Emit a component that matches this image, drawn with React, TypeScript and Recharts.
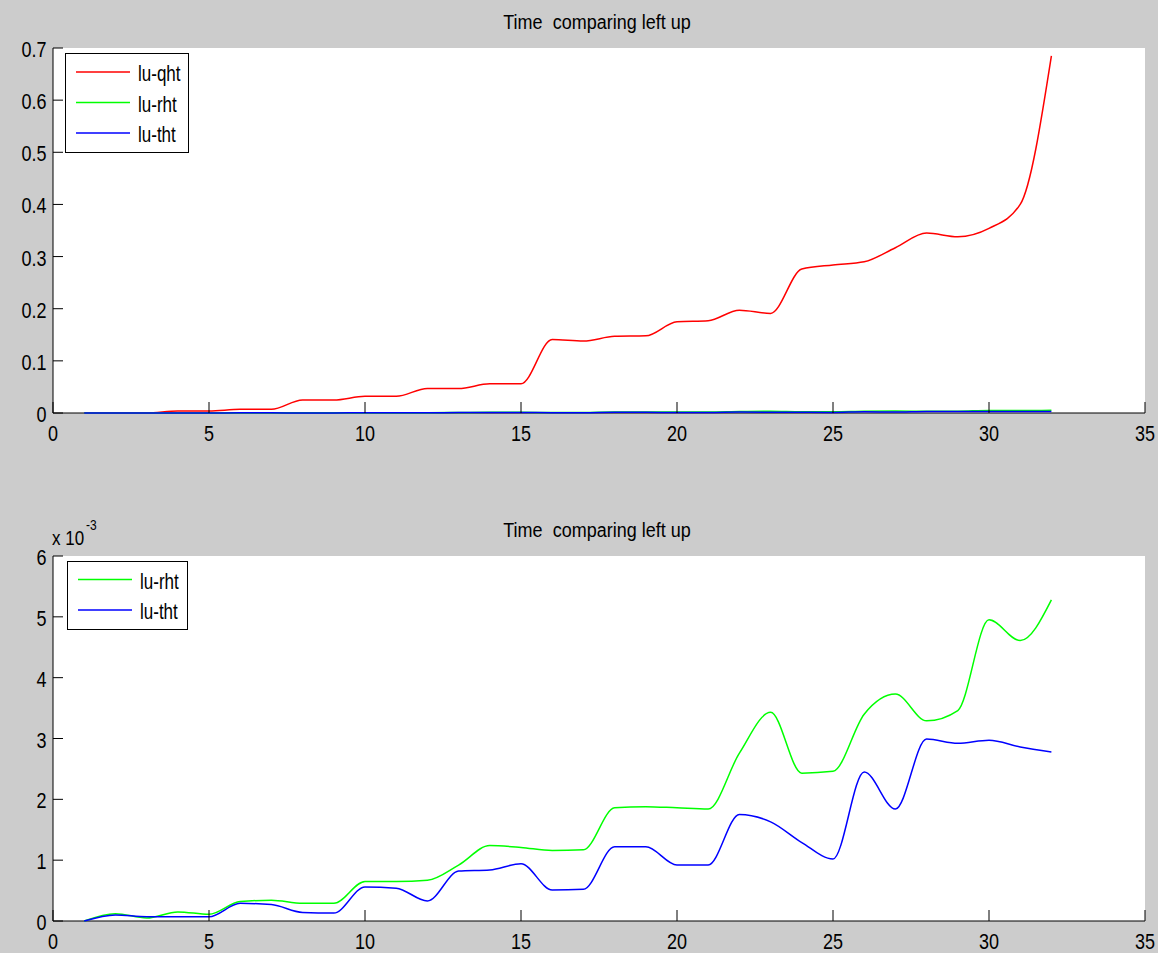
import React from 'react';
import { LineChart, Line, XAxis, YAxis, CartesianGrid, Legend } from 'recharts';

// Sample times (one reading per step)
const times = [1, 2, 3, 4, 5, 6, 7, 8, 9, 10, 11, 12, 13, 14, 15, 16, 17, 18, 19, 20, 21, 22, 23, 24, 25, 26, 27, 28, 29, 30, 31, 32];

// lu-qht, plain units
const qht = [0, 0, 0, 0.004, 0.004, 0.007, 0.007, 0.025, 0.025, 0.032, 0.032, 0.047, 0.047, 0.056, 0.056, 0.141, 0.138, 0.147, 0.148, 0.175, 0.177, 0.197, 0.191, 0.276, 0.284, 0.29, 0.317, 0.345, 0.338, 0.354, 0.4, 0.685];

// lu-rht and lu-tht, in units of 1e-3
const rhtMilli = [0, 0.12, 0.05, 0.15, 0.11, 0.32, 0.34, 0.29, 0.29, 0.65, 0.65, 0.67, 0.92, 1.24, 1.21, 1.16, 1.17, 1.86, 1.88, 1.86, 1.84, 2.76, 3.43, 2.43, 2.46, 3.4, 3.73, 3.29, 3.46, 4.95, 4.61, 5.28];
const thtMilli = [0, 0.1, 0.07, 0.07, 0.07, 0.29, 0.27, 0.14, 0.13, 0.56, 0.54, 0.33, 0.82, 0.84, 0.94, 0.51, 0.52, 1.22, 1.22, 0.92, 0.92, 1.75, 1.63, 1.29, 1.02, 2.45, 1.84, 2.99, 2.92, 2.97, 2.86, 2.78];

const xTicks = [0, 5, 10, 15, 20, 25, 30, 35];
const topYTicks = [0, 0.1, 0.2, 0.3, 0.4, 0.5, 0.6, 0.7];
const topYLabels = ['0', '0.1', '0.2', '0.3', '0.4', '0.5', '0.6', '0.7'];
const bottomYTicksMilli = [0, 1, 2, 3, 4, 5, 6];

const titleText = 'Time  comparing left up';

const rows = times.map((t, i) => ({
  t,
  qht: qht[i],
  rht: rhtMilli[i] / 1000,
  tht: thtMilli[i] / 1000,
}));

const FONT = '"Liberation Sans", Arial, Helvetica, sans-serif';
const RED = '#ff0000';
const GREEN = '#00ff00';
const BLUE = '#0000ff';

function XTick(props: any) {
  const { x, y, payload } = props;
  return (
    <g>
      <line x1={x} y1={y} x2={x} y2={y - 11} stroke="#000" strokeWidth={1} />
      <text
        transform={`translate(${x},${y + 28}) scale(1,1.2)`}
        textAnchor="middle"
        fontSize={18}
        fontFamily={FONT}
        fill="#000"
      >
        {payload.value}
      </text>
    </g>
  );
}

function makeYTick(format: (v: number) => string) {
  return (props: any) => {
    const { x, y, payload } = props;
    return (
      <g>
        <line x1={x} y1={y} x2={x + 10} y2={y} stroke="#000" strokeWidth={1} />
        <text
          transform={`translate(${x - 6.5},${y + 9}) scale(1,1.22)`}
          textAnchor="end"
          fontSize={18}
          fontFamily={FONT}
          fill="#000"
        >
          {format(payload.value)}
        </text>
      </g>
    );
  };
}

const topYTick = makeYTick((v) => {
  const i = topYTicks.findIndex((t) => Math.abs(t - v) < 1e-9);
  return i >= 0 ? topYLabels[i] : String(v);
});
const bottomYTick = makeYTick((v) => String(Math.round(v * 1000)));

function LegendBox(props: any) {
  const { payload = [], boxW, boxH, rowTop, rowGap } = props;
  return (
    <svg width={boxW} height={boxH} style={{ display: 'block' }}>
      <rect x={0.5} y={0.5} width={boxW - 1} height={boxH - 1} fill="#fff" stroke="#000" strokeWidth={1} />
      {payload.map((item: any, i: number) => {
        const cy = rowTop + i * rowGap;
        return (
          <g key={item.value}>
            <line x1={11} y1={cy} x2={65} y2={cy} stroke={item.color} strokeWidth={1.5} />
            <text
              transform={`translate(73,${cy + 9}) scale(1,1.3)`}
              fontSize={17}
              fontFamily={FONT}
              fill="#000"
            >
              {item.value}
            </text>
          </g>
        );
      })}
    </svg>
  );
}

// White plot area; the two axis lines are drawn as grid lines at x = 0 and y = 0
// so that the data lines are painted over them.
function PlotFrame() {
  return (
    <CartesianGrid
      horizontal
      vertical
      horizontalValues={[0]}
      verticalValues={[0]}
      fill="#ffffff"
      fillOpacity={1}
      stroke="#000"
      strokeWidth={1}
    />
  );
}

export default function App() {
  return (
    <div
      style={{
        position: 'fixed',
        left: 0,
        top: 0,
        width: 1158,
        height: 953,
        background: '#cccccc',
        overflow: 'hidden',
      }}
    >
      <div style={{ position: 'absolute', left: 0, top: 0 }}>
        <LineChart width={1158} height={470} data={rows} margin={{ top: 48, right: 13, bottom: 17, left: 0 }}>
          {PlotFrame()}
          <XAxis
            dataKey="t"
            type="number"
            domain={[0, 35]}
            ticks={xTicks}
            interval={0}
            height={40}
            tickSize={0}
            tickMargin={0}
            tickLine={false}
            axisLine={false}
            tick={(p: any) => <XTick {...p} />}
          />
          <YAxis
            type="number"
            domain={[0, 0.7]}
            ticks={topYTicks}
            interval={0}
            width={53}
            tickSize={0}
            tickMargin={0}
            tickLine={false}
            axisLine={false}
            tick={topYTick}
          />
          <Legend
            layout="vertical"
            align="center"
            verticalAlign="middle"
            wrapperStyle={{ left: 65, top: 53, width: 124, height: 100 }}
            content={(p: any) => <LegendBox {...p} boxW={124} boxH={100} rowTop={19} rowGap={30.5} />}
          />
          <Line type="monotone" dataKey="qht" name="lu-qht" stroke={RED} strokeWidth={1.5} dot={false} isAnimationActive={false} />
          <Line type="monotone" dataKey="rht" name="lu-rht" stroke={GREEN} strokeWidth={1.5} dot={false} isAnimationActive={false} />
          <Line type="monotone" dataKey="tht" name="lu-tht" stroke={BLUE} strokeWidth={1.5} dot={false} isAnimationActive={false} />
        </LineChart>
      </div>

      <div style={{ position: 'absolute', left: 0, top: 470 }}>
        <LineChart width={1158} height={483} data={rows} margin={{ top: 86, right: 13, bottom: 0, left: 0 }}>
          {PlotFrame()}
          <XAxis
            dataKey="t"
            type="number"
            domain={[0, 35]}
            ticks={xTicks}
            interval={0}
            height={32}
            tickSize={0}
            tickMargin={0}
            tickLine={false}
            axisLine={false}
            tick={(p: any) => <XTick {...p} />}
          />
          <YAxis
            type="number"
            domain={[0, 0.006]}
            ticks={bottomYTicksMilli.map((v) => v / 1000)}
            interval={0}
            width={53}
            tickSize={0}
            tickMargin={0}
            tickLine={false}
            axisLine={false}
            tick={bottomYTick}
          />
          <Legend
            layout="vertical"
            align="center"
            verticalAlign="middle"
            wrapperStyle={{ left: 67, top: 91, width: 121, height: 69 }}
            content={(p: any) => <LegendBox {...p} boxW={121} boxH={69} rowTop={18.5} rowGap={30.5} />}
          />
          <Line type="monotone" dataKey="rht" name="lu-rht" stroke={GREEN} strokeWidth={1.5} dot={false} isAnimationActive={false} />
          <Line type="monotone" dataKey="tht" name="lu-tht" stroke={BLUE} strokeWidth={1.5} dot={false} isAnimationActive={false} />
        </LineChart>
      </div>

      <svg
        width={1158}
        height={953}
        style={{ position: 'absolute', left: 0, top: 0, pointerEvents: 'none' }}
      >
        <text transform="translate(597,29) scale(1,1.12)" textAnchor="middle" fontSize={18} fontFamily={FONT} fill="#000" style={{ whiteSpace: 'pre' }}>
          {titleText}
        </text>
        <text transform="translate(597,537) scale(1,1.12)" textAnchor="middle" fontSize={18} fontFamily={FONT} fill="#000" style={{ whiteSpace: 'pre' }}>
          {titleText}
        </text>
        <text transform="translate(52,545) scale(1,1.2)" fontSize={17} fontFamily={FONT} fill="#000">
          x 10
        </text>
        <text transform="translate(86,530) scale(1,1.2)" fontSize={12} fontFamily={FONT} fill="#000">
          -3
        </text>
      </svg>
    </div>
  );
}
